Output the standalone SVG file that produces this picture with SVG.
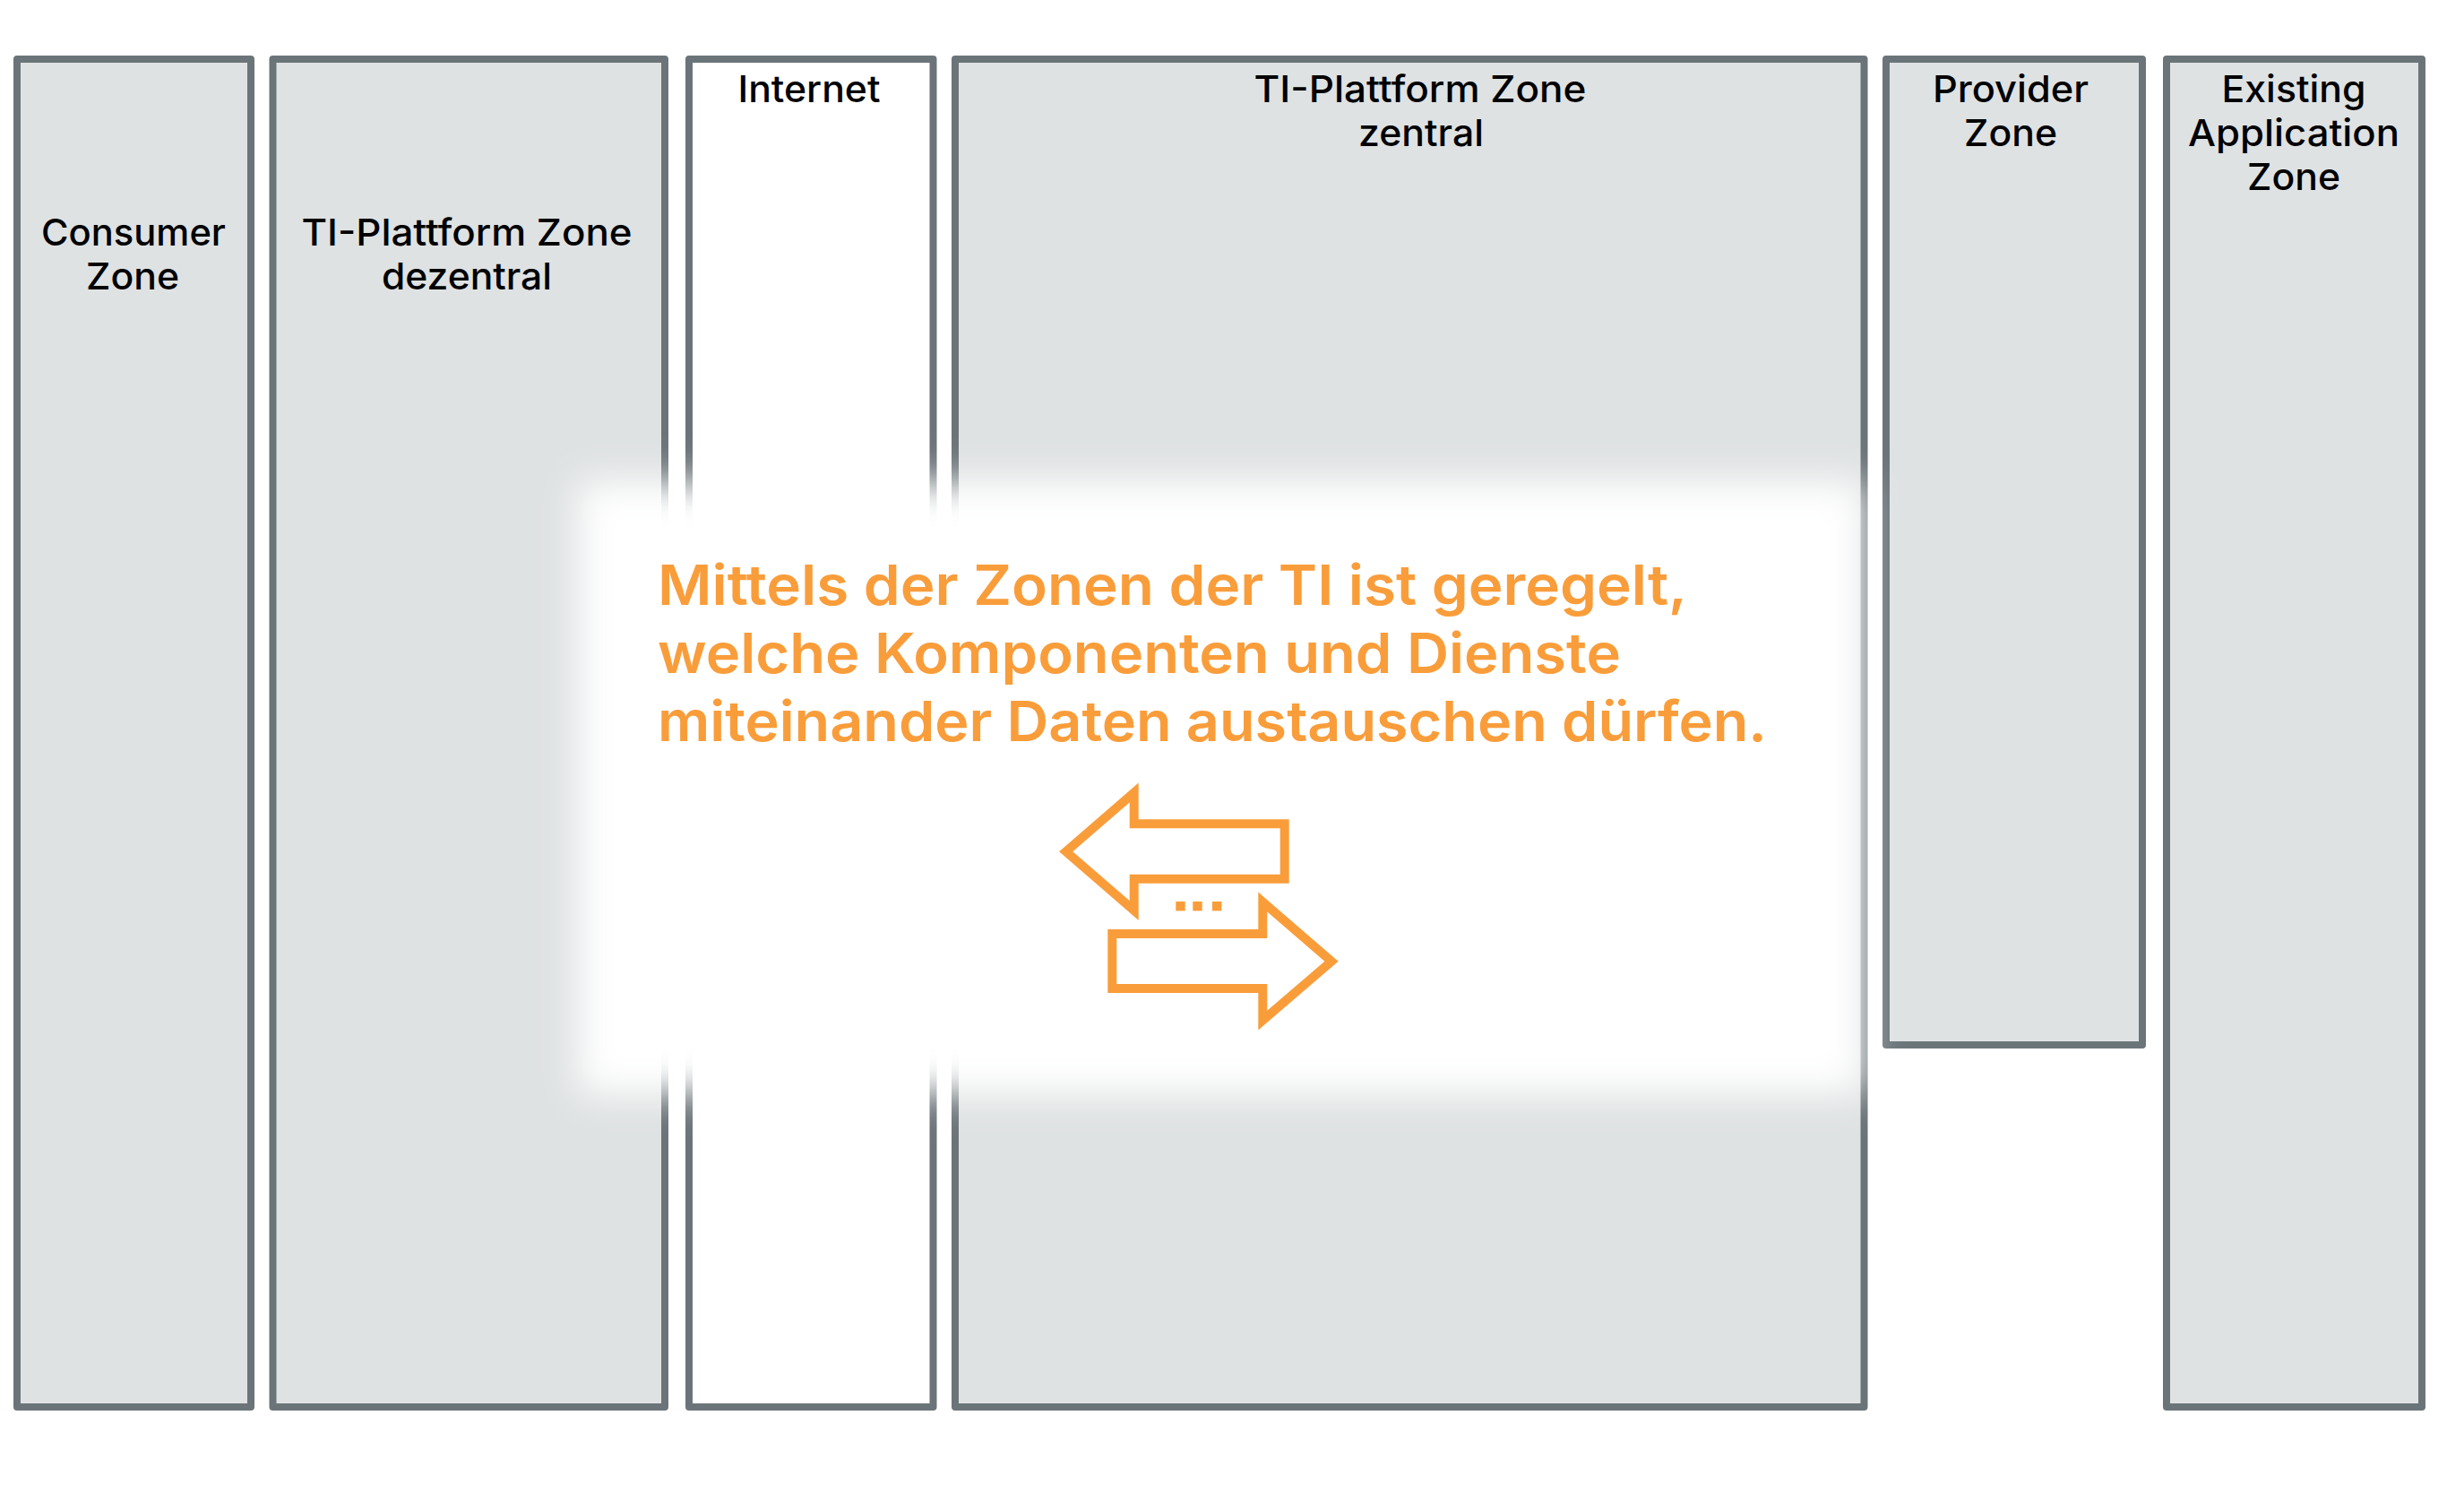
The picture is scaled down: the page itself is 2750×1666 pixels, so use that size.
<svg xmlns="http://www.w3.org/2000/svg" width="2750" height="1666" viewBox="0 0 2750 1666">
<style>
.z{fill:#dfe2e3;stroke:#6b7579;stroke-width:8;stroke-linejoin:round}
.w{fill:#fff}
text{font-family:"Inter","Liberation Sans",sans-serif}
.l{font-size:41px;font-weight:500;fill:#000;text-anchor:middle}
.o{font-size:62px;font-weight:600;fill:#f99d3b}
.a{fill:#fff;stroke:#f99d3b;stroke-width:10;stroke-miterlimit:10}
.d{fill:#f99d3b}
</style>
<defs><filter id="soft" filterUnits="userSpaceOnUse" x="520" y="410" width="1700" height="940"><feGaussianBlur stdDeviation="20"/></filter></defs>
<rect width="2750" height="1666" fill="#fff"/>
<g id="zone-consumer"><rect class="z" x="19" y="66" width="261" height="1504"/>
<text class="l" x="149" y="274" textLength="206" lengthAdjust="spacingAndGlyphs">Consumer</text><text class="l" x="148" y="323" textLength="104" lengthAdjust="spacingAndGlyphs">Zone</text></g>
<g id="zone-ti-dezentral"><rect class="z" x="304.500" y="66" width="437.500" height="1504"/>
<text class="l" x="521" y="274" textLength="369" lengthAdjust="spacingAndGlyphs">TI-Plattform Zone</text><text class="l" x="521" y="323" textLength="190" lengthAdjust="spacingAndGlyphs">dezentral</text></g>
<g id="zone-internet"><rect class="z" x="769" y="66" width="272.500" height="1504" style="fill:#fff"/>
<text class="l" x="903" y="114" textLength="159" lengthAdjust="spacingAndGlyphs">Internet</text></g>
<g id="zone-ti-zentral"><rect class="z" x="1066" y="66" width="1014.500" height="1504"/>
<text class="l" x="1585" y="114" textLength="371" lengthAdjust="spacingAndGlyphs">TI-Plattform Zone</text><text class="l" x="1586" y="163" textLength="140" lengthAdjust="spacingAndGlyphs">zentral</text></g>
<g id="zone-provider"><rect class="z" x="2105" y="66" width="286" height="1100"/>
<text class="l" x="2244" y="114" textLength="174" lengthAdjust="spacingAndGlyphs">Provider</text><text class="l" x="2244" y="163" textLength="104" lengthAdjust="spacingAndGlyphs">Zone</text></g>
<g id="zone-existing"><rect class="z" x="2418" y="66" width="285" height="1504"/>
<text class="l" x="2560" y="114" textLength="161" lengthAdjust="spacingAndGlyphs">Existing</text><text class="l" x="2560" y="163" textLength="236" lengthAdjust="spacingAndGlyphs">Application</text><text class="l" x="2560" y="212" textLength="104" lengthAdjust="spacingAndGlyphs">Zone</text></g>
<rect id="veil" class="w" x="646" y="538" width="1434" height="682" filter="url(#soft)"/>
<g id="message">
<text class="o" x="734" y="675" textLength="1149" lengthAdjust="spacingAndGlyphs">Mittels der Zonen der TI ist geregelt,</text>
<text class="o" x="734" y="751" textLength="1075" lengthAdjust="spacingAndGlyphs">welche Komponenten und Dienste</text>
<text class="o" x="734" y="827" textLength="1238" lengthAdjust="spacingAndGlyphs">miteinander Daten austauschen dürfen.</text>
</g>
<g id="connectors">
<polygon class="a" points="1189.700,950.300 1265.700,884.500 1265.700,919.300 1433.700,919.300 1433.700,980.700 1265.700,980.700 1265.700,1016"/>
<polygon class="a" points="1241.300,1042 1409.300,1042 1409.300,1006.500 1486,1072.700 1409.300,1138.500 1409.300,1103 1241.300,1103"/>
<rect class="d" x="1312.300" y="1006" width="10.400" height="10.400"/><rect class="d" x="1331.300" y="1006" width="10.400" height="10.400"/><rect class="d" x="1353" y="1006" width="10.400" height="10.400"/>
</g>
</svg>
